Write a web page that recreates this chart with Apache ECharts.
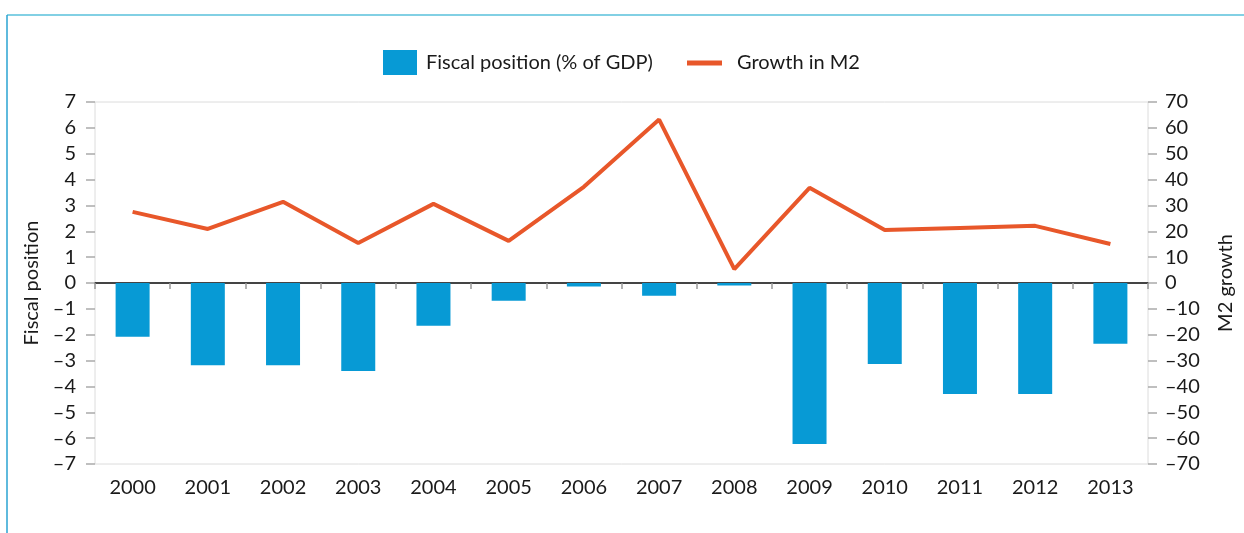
<!DOCTYPE html>
<html>
<head>
<meta charset="utf-8">
<script src="https://cdn.jsdelivr.net/npm/echarts@6/dist/echarts.min.js"></script>
<style>
  html, body { margin: 0; padding: 0; background: #fff; }
  #chart { width: 1244px; height: 533px; }
</style>
</head>
<body>
<div id="chart"></div>
<script>
// data
var years = ['2000', '2001', '2002', '2003', '2004', '2005', '2006', '2007', '2008', '2009', '2010', '2011', '2012', '2013']
var fiscal = [-2.08, -3.18, -3.18, -3.4, -1.65, -0.69, -0.14, -0.49, -0.1, -6.23, -3.13, -4.29, -4.29, -2.35]
var m2growth = [27.5, 20.9, 31.4, 15.5, 30.6, 16.3, 37.2, 63.2, 5.4, 36.8, 20.5, 21.3, 22.1, 15.1]

var font = 'Lato'
var dash = function (v) { return String(v).replace('-', '\u2013') }

var chart = echarts.init(document.getElementById('chart'))
chart.setOption({
  animation: false,
  textStyle: { fontFamily: font },
  graphic: [
    { type: 'line', shape: { x1: 7, y1: 15, x2: 1244, y2: 15 }, style: { stroke: '#82d0e4', lineWidth: 2 } },
    { type: 'line', shape: { x1: 7, y1: 15, x2: 7, y2: 533 }, style: { stroke: '#2aa3d2', lineWidth: 1.5 } }
  ],
  legend: [{
    data: ['Fiscal position (% of GDP)'],
    left: 383,
    top: 50,
    padding: 0,
    icon: 'rect',
    itemWidth: 34,
    itemHeight: 25,
    textStyle: { fontFamily: font, fontSize: 20, color: '#1a1a1a', padding: [0, 0, 0, 4] }
  }, {
    data: ['Growth in M2'],
    left: 687,
    top: 53,
    padding: 0,
    icon: 'rect',
    itemWidth: 35,
    itemHeight: 5,
    textStyle: { fontFamily: font, fontSize: 20, color: '#1a1a1a', padding: [0, 0, 0, 10] }
  }],
  grid: {
    left: 95,
    right: 91,
    top: 102,
    bottom: 69,
    show: true,
    borderColor: '#dcdcdc',
    borderWidth: 1
  },
  xAxis: [{
    type: 'category',
    data: years,
    position: 'bottom',
    axisLine: { show: false },
    axisTick: { show: false },
    axisLabel: { fontSize: 20, color: '#1a1a1a', margin: 14, fontFamily: font }
  }, {
    type: 'category',
    data: years,
    position: 'top',
    axisLine: { onZero: true, lineStyle: { color: '#444', width: 2 } },
    axisTick: { show: true, inside: true, length: 6, lineStyle: { color: '#999', width: 1.5 } },
    axisLabel: { show: false }
  }],
  yAxis: [{
    type: 'value',
    min: -7,
    max: 7,
    interval: 1,
    name: 'Fiscal position',
    nameLocation: 'middle',
    nameGap: 50,
    nameRotate: 90,
    nameTextStyle: { fontSize: 20, color: '#1a1a1a', fontFamily: font },
    axisLine: { show: false },
    axisTick: { show: true, length: 9, lineStyle: { color: '#aaa', width: 1.5 } },
    axisLabel: { fontSize: 20, color: '#1a1a1a', margin: 19, formatter: dash, fontFamily: font },
    splitLine: { show: false }
  }, {
    type: 'value',
    min: -70,
    max: 70,
    interval: 10,
    name: 'M2 growth',
    nameLocation: 'middle',
    nameGap: 68,
    nameRotate: 90,
    nameTextStyle: { fontSize: 20, color: '#1a1a1a', fontFamily: font },
    axisLine: { show: false },
    axisTick: { show: true, length: 9, lineStyle: { color: '#aaa', width: 1.5 } },
    axisLabel: { fontSize: 20, color: '#1a1a1a', margin: 17, formatter: dash, fontFamily: font },
    splitLine: { show: false }
  }],
  series: [{
    name: 'Fiscal position (% of GDP)',
    type: 'bar',
    xAxisIndex: 1,
    yAxisIndex: 0,
    data: fiscal,
    barWidth: 34,
    itemStyle: { color: '#079ad5' }
  }, {
    name: 'Growth in M2',
    type: 'line',
    xAxisIndex: 1,
    yAxisIndex: 1,
    data: m2growth,
    showSymbol: false,
    symbol: 'none',
    lineStyle: { color: '#e8572a', width: 4 },
    itemStyle: { color: '#e8572a' }
  }]
})
</script>
</body>
</html>
